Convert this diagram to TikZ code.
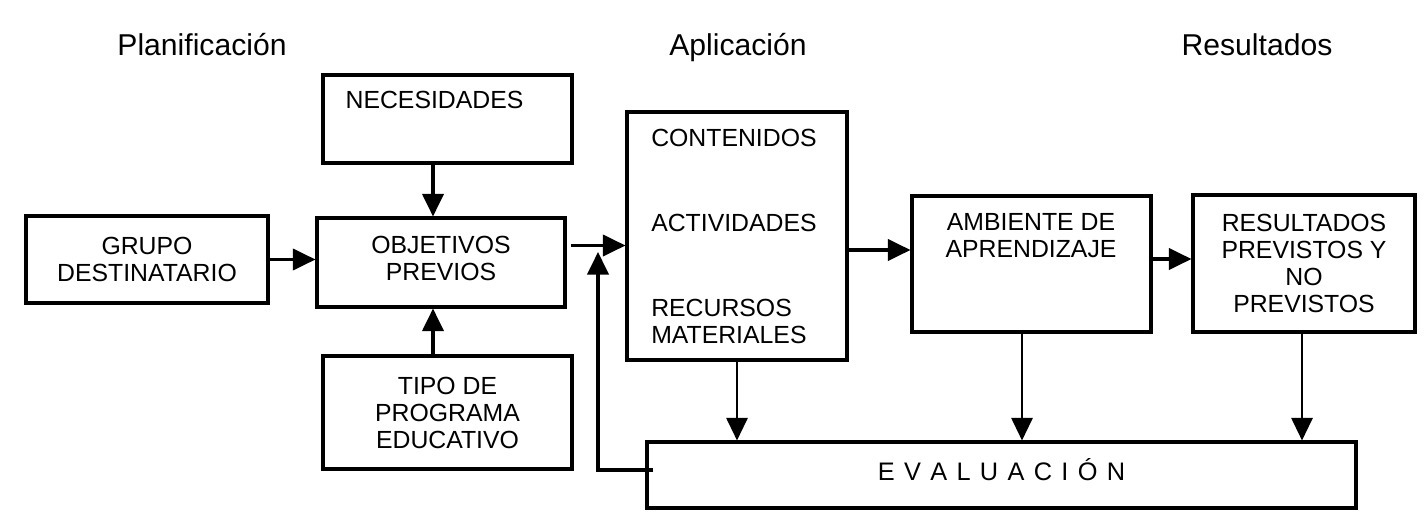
\documentclass[tikz,border=0pt]{standalone}
\usepackage{fontspec}
\setmainfont{Liberation Sans}
\usetikzlibrary{arrows.meta,calc}
\begin{document}
\begin{tikzpicture}[x=0.75pt,y=-0.75pt,
  box/.style={draw, line width=2.3pt, inner sep=0pt, align=center,
    font=\fontsize{18.6}{20.25}\selectfont},
  txt/.style={inner sep=0pt, font=\fontsize{18.6}{20.25}\selectfont},
  head/.style={inner sep=0pt, anchor=base, font=\fontsize{22.6}{26}\selectfont},
  arr/.style={line width=2.3pt, -{Triangle[length=17pt,width=16pt]}},
  tarr/.style={line width=1.6pt, -{Triangle[length=17pt,width=16pt]}}]
\useasboundingbox (0,0) rectangle (1427,524);
% headings
\node[head] (h1) at (202,56) {Planificación};
\node[head] (h2) at (738,56) {Aplicación};
\node[head] (h3) at (1257,56) {Resultados};
% boxes
\node[box, minimum width=242*0.75pt, minimum height=87*0.75pt] (grupo) at (147,259.5) {GRUPO\\DESTINATARIO};
\node[box, minimum width=248*0.75pt, minimum height=89*0.75pt] (obj) at (441,262.5) {};
\node[txt, align=center] (objtxt) at (441,258) {OBJETIVOS\\PREVIOS};
\node[box, minimum width=249*0.75pt, minimum height=88*0.75pt] (nec) at (447.5,119) {};
\node[txt] (nectxt) at (434.5,100) {NECESIDADES};
\node[box, minimum width=249*0.75pt, minimum height=113*0.75pt] (tipo) at (447.5,412.5) {TIPO DE\\PROGRAMA\\EDUCATIVO};
\node[box, minimum width=220*0.75pt, minimum height=248*0.75pt] (cont) at (737,236) {};
\node[txt, anchor=west] (c1) at (651,138) {CONTENIDOS};
\node[txt, anchor=west] (c2) at (651,223) {ACTIVIDADES};
\node[txt, anchor=west, align=left] (c3) at (651,321) {RECURSOS\\MATERIALES};
\node[box, minimum width=239*0.75pt, minimum height=136*0.75pt] (amb) at (1031.5,264) {};
\node[txt, align=center] (ambtxt) at (1031,236) {AMBIENTE DE\\APRENDIZAJE};
\node[box, minimum width=222*0.75pt, minimum height=137*0.75pt] (res) at (1304,263.5) {RESULTADOS\\PREVISTOS Y\\NO\\PREVISTOS};
\node[box, minimum width=709*0.75pt, minimum height=66*0.75pt] (eval) at (1001.5,475) {};
\node[txt, font=\fontsize{19}{21}\selectfont] (evaltxt) at (1001.5,470)
  {E\kern7pt V\kern7pt A\kern7pt L\kern7pt U\kern7pt A\kern7pt C\kern7pt I\kern7pt Ó\kern7pt N};
% connectors
\draw[arr] (grupo.east) -- (grupo.east -| obj.west);
\coordinate (n1) at ($(nec.south)+(-14.5,0)$);
\draw[arr] (n1) -- (n1 |- obj.north);
\coordinate (t1) at ($(tipo.north)+(-14.5,0)$);
\draw[arr] (t1) -- (t1 |- obj.south);
\coordinate (o1) at ($(obj.east)+(4,-17)$);
\draw[arr] (o1) -- (o1 -| cont.west);
\coordinate (fbtop) at (598,252);
\draw[arr] ($(eval.west)+(8,-5)$) -| (fbtop);
\coordinate (a1) at ($(amb.west)+(0,-14)$);
\draw[arr] (a1 -| cont.east) -- (a1);
\coordinate (r1) at ($(amb.east)+(-4,-5)$);
\draw[arr] (r1) -- (r1 -| res.west);
\draw[tarr] (cont.south) -- (cont.south |- eval.north);
\coordinate (e2) at ($(amb.south)+(-9.5,0)$);
\draw[tarr] (e2) -- (e2 |- eval.north);
\coordinate (e3) at ($(res.south)+(-2,0)$);
\draw[tarr] (e3) -- (e3 |- eval.north);
\end{tikzpicture}
\end{document}
